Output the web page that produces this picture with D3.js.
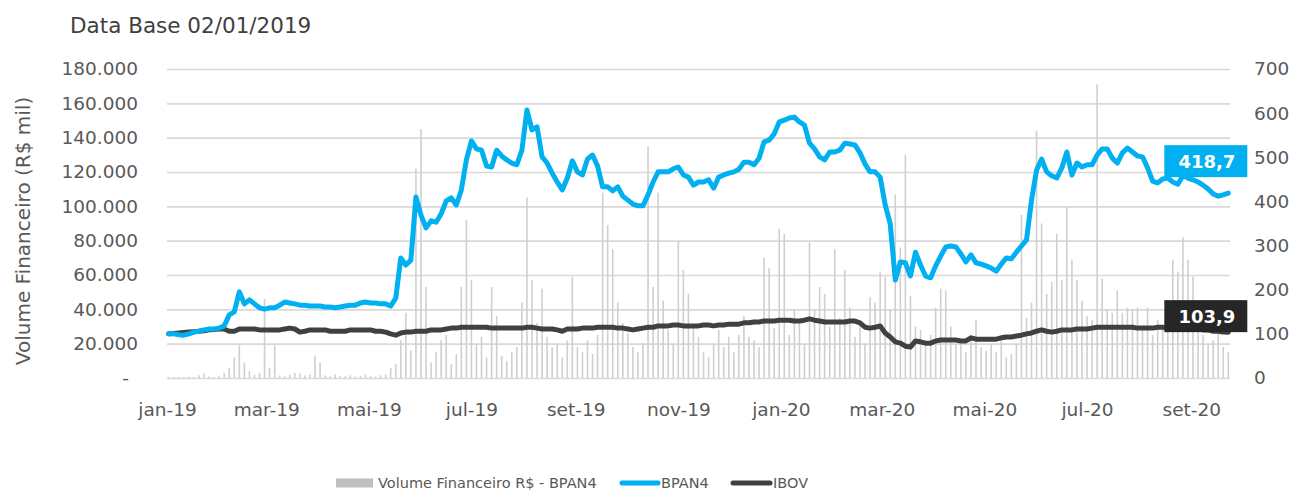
<!DOCTYPE html>
<html>
<head>
<meta charset="utf-8">
<script src="https://cdn.jsdelivr.net/npm/d3@7"></script>
<style>
  body { margin: 0; background: #fff; }
  text { font-family: "DejaVu Sans", Verdana, sans-serif; fill: #595959; }
</style>
</head>
<body>
<svg id="chart"></svg>
<script>
// series sampled every 3 calendar days from 02/01/2019
const startDate = new Date(2019, 0, 2);
const stepDays = 3;

// BPAN4 (base 100)
const bpan4 = [
  100,100,98,97,100,104,106,109,111,111,113,
  118,143,150,195,168,177,168,159,156,159,
  159,165,172,170,168,165,165,163,163,163,
  161,161,159,161,163,165,165,170,172,170,
  170,168,168,163,181,272,256,267,410,369,
  340,356,353,372,401,408,392,426,494,537,
  519,516,480,478,516,503,494,487,483,516,
  607,562,569,501,487,464,444,426,453,492,
  467,460,496,505,480,433,433,424,433,412,
  403,394,390,390,415,444,467,467,467,474,
  478,460,455,437,444,444,449,430,455,460,
  464,467,473,489,489,483,498,535,539,553,
  580,584,589,591,580,573,532,519,501,494,
  512,512,516,532,530,528,510,485,467,467,
  455,392,349,222,263,261,231,285,256,231,
  227,254,276,297,299,297,281,263,279,261,
  258,254,249,242,258,272,270,285,299,313,
  403,471,496,467,458,453,476,512,460,487,
  478,483,483,505,519,519,498,487,510,521,
  512,503,501,476,446,442,451,453,444,439,
  458,453,449,444,437,428,417,412,415,418.7
];

// IBOV (base 100)
const ibov = [
  100,101,102,103,104,105,106,107,109,110,111,
  111,106,106,111,111,111,111,109,109,109,
  109,109,111,113,111,104,106,109,109,109,
  109,106,106,106,106,109,109,109,109,109,
  106,106,104,100,97,102,104,104,106,106,
  106,109,109,109,111,113,113,115,115,115,
  115,115,115,113,113,113,113,113,113,113,
  115,115,113,111,111,111,109,106,111,111,
  111,113,113,113,115,115,115,115,113,113,
  111,109,111,113,115,115,118,118,118,120,
  120,118,118,118,118,120,120,118,120,120,
  122,122,122,125,125,127,127,129,129,129,
  131,131,131,129,129,131,134,131,129,127,
  127,127,127,127,129,129,125,115,113,115,
  118,102,93,82,79,72,70,84,82,79,
  79,84,86,86,86,86,84,84,91,88,
  88,88,88,88,91,93,93,95,97,100,
  102,106,109,106,104,106,109,109,109,111,
  111,111,113,115,115,115,115,115,115,115,
  115,113,113,113,113,115,115,113,113,113,
  113,111,111,111,109,109,106,106,104,103.9
];

// Volume Financeiro R$ - BPAN4 (R$ mil)
const volume = [
  500,300,500,400,800,600,1500,2500,800,600,1000,
  3000,6000,12000,19000,9000,4000,2000,3000,46000,6000,
  19000,1500,1000,2000,3000,2500,1500,2000,13000,9000,
  1500,1000,2000,1200,1000,1500,800,1200,2000,1000,
  800,1500,2000,6000,8000,22000,38000,16000,122000,145000,
  53000,9000,15000,22000,25000,8000,14000,53000,92000,57000,
  20000,24000,12000,53000,36000,13000,10000,15000,18000,44000,
  105000,57000,32000,52000,24000,18000,20000,12000,22000,59000,
  18000,15000,22000,14000,25000,108000,89000,75000,44000,32000,
  26000,18000,15000,20000,135000,53000,108000,45000,28000,20000,
  80000,63000,49000,30000,24000,15000,12000,20000,28000,18000,
  24000,15000,25000,36000,24000,22000,18000,70000,64000,29000,
  87000,84000,25000,40000,32000,20000,79000,40000,53000,49000,
  30000,75000,35000,63000,41000,24000,30000,20000,47000,44000,
  62000,59000,40000,107000,76000,130000,48000,30000,28000,20000,
  25000,41000,52000,51000,30000,20000,20000,15000,25000,34000,
  18000,16000,20000,15000,24000,12000,14000,20000,95000,35000,
  44000,144000,90000,49000,56000,84000,57000,100000,69000,57000,
  45000,36000,34000,171000,58000,40000,38000,51000,38000,41000,
  40000,41000,30000,41000,25000,34000,28000,40000,69000,62000,
  82000,69000,59000,30000,25000,20000,22000,30000,18000,15000
];

const xTickDates = ["2019-01-01","2019-03-01","2019-05-01","2019-07-01","2019-09-01","2019-11-01",
                    "2020-01-01","2020-03-01","2020-05-01","2020-07-01","2020-09-01"];
const xTickLabels = ["jan-19","mar-19","mai-19","jul-19","set-19","nov-19",
                     "jan-20","mar-20","mai-20","jul-20","set-20"];
const leftTicks = [0,20000,40000,60000,80000,100000,120000,140000,160000,180000];
const rightTicks = [0,100,200,300,400,500,600,700];

const width = 1293, height = 499;
const m = {left: 167, right: 1230, top: 69, bottom: 378};
const blue = "#00b0f0", dark = "#404040", barColor = "#cfcfcf", gridColor = "#d9d9d9";

const pt = d3.formatLocale({decimal: ",", thousands: ".", grouping: [3], currency: ["R$ ", ""]});
const fmtThousands = pt.format(",.0f");
const fmtOne = pt.format(".1f");

const parse = d3.timeParse("%Y-%m-%d");
const dates = bpan4.map((d, i) => d3.timeDay.offset(startDate, i * stepDays));

const x = d3.scaleTime()
  .domain([new Date(2019, 0, 1), new Date(2020, 8, 24)])
  .range([m.left, m.right]);

const yL = d3.scaleLinear().domain([0, 180000]).range([m.bottom, m.top]);
const yR = d3.scaleLinear().domain([0, 700]).range([m.bottom, m.top]);

const svg = d3.select("#chart")
  .attr("width", width)
  .attr("height", height)
  .style("background", "#fff");

// title
svg.append("text")
  .attr("x", 70)
  .attr("y", 33)
  .style("font-size", "21.5px")
  .style("fill", "#404040")
  .text("Data Base 02/01/2019");

// gridlines
const grid = svg.append("g")
  .attr("transform", `translate(${m.left},0)`)
  .call(d3.axisLeft(yL).tickValues(leftTicks).tickSize(-(m.right - m.left)).tickFormat(""));
grid.select(".domain").remove();
grid.selectAll("line").attr("stroke", gridColor).attr("stroke-width", 1.6);

// volume bars
svg.append("g")
  .selectAll("rect")
  .data(volume)
  .enter()
  .append("rect")
  .attr("x", (d, i) => x(dates[i]) - 0.8)
  .attr("width", 1.6)
  .attr("y", d => yL(d))
  .attr("height", d => m.bottom - yL(d))
  .attr("fill", barColor);

// left axis
const axL = svg.append("g")
  .attr("transform", `translate(${m.left},0)`)
  .call(d3.axisLeft(yL).tickValues(leftTicks).tickSize(0).tickPadding(29)
    .tickFormat(d => d === 0 ? "-" : fmtThousands(d)));
axL.select(".domain").remove();
axL.selectAll("text").style("font-size", "18.5px").style("fill", "#595959")
  .attr("dx", d => d === 0 ? -9 : 0);

// right axis
const axR = svg.append("g")
  .attr("transform", `translate(${m.right},0)`)
  .call(d3.axisRight(yR).tickValues(rightTicks).tickSize(0).tickPadding(24));
axR.select(".domain").remove();
axR.selectAll("text").style("font-size", "18.5px").style("fill", "#595959");

// x axis
const axX = svg.append("g")
  .attr("transform", `translate(0,${m.bottom})`)
  .call(d3.axisBottom(x).tickValues(xTickDates.map(parse)).tickSize(0).tickPadding(25)
    .tickFormat((d, i) => xTickLabels[i]));
axX.select(".domain").remove();
axX.selectAll("text").style("font-size", "18.5px").style("fill", "#595959");

// y axis title
svg.append("text")
  .attr("transform", "translate(30,231) rotate(-90)")
  .attr("text-anchor", "middle")
  .style("font-size", "20px")
  .text("Volume Financeiro (R$ mil)");

// lines
const lineR = d3.line()
  .x((d, i) => x(dates[i]))
  .y(d => yR(d));

svg.append("path")
  .datum(ibov)
  .attr("d", lineR)
  .attr("fill", "none")
  .attr("stroke", dark)
  .attr("stroke-width", 5)
  .attr("stroke-linejoin", "round")
  .attr("stroke-linecap", "round");

svg.append("path")
  .datum(bpan4)
  .attr("d", lineR)
  .attr("fill", "none")
  .attr("stroke", blue)
  .attr("stroke-width", 5)
  .attr("stroke-linejoin", "round")
  .attr("stroke-linecap", "round");

// end labels
const lastDate = dates[dates.length - 1];
const endLabels = [
  {v: bpan4[bpan4.length - 1], color: blue, off: 48},
  {v: ibov[ibov.length - 1], color: "#262626", off: 32}
];
endLabels.forEach(l => {
  const bx = x(lastDate) - 64, by = yR(l.v) - l.off;
  svg.append("rect")
    .attr("x", bx).attr("y", by)
    .attr("width", 83).attr("height", 32)
    .attr("fill", l.color);
  svg.append("text")
    .attr("x", bx + 71).attr("y", by + 16)
    .attr("text-anchor", "end")
    .attr("dominant-baseline", "central")
    .style("font-size", "18px")
    .style("font-weight", "bold")
    .style("fill", "#fff")
    .text(fmtOne(l.v));
});

// legend
const legY = 483;
const leg = svg.append("g");
leg.append("rect").attr("x", 336).attr("y", legY - 4.5).attr("width", 37).attr("height", 9).attr("fill", "#bfbfbf");
leg.append("text").attr("x", 378).attr("y", legY).attr("dominant-baseline", "central")
  .style("font-size", "14.5px").text("Volume Financeiro R$ - BPAN4");
leg.append("line").attr("x1", 622).attr("x2", 658).attr("y1", legY).attr("y2", legY)
  .attr("stroke", blue).attr("stroke-width", 5).attr("stroke-linecap", "round");
leg.append("text").attr("x", 661).attr("y", legY).attr("dominant-baseline", "central")
  .style("font-size", "14.5px").text("BPAN4");
leg.append("line").attr("x1", 733).attr("x2", 770).attr("y1", legY).attr("y2", legY)
  .attr("stroke", dark).attr("stroke-width", 5).attr("stroke-linecap", "round");
leg.append("text").attr("x", 773).attr("y", legY).attr("dominant-baseline", "central")
  .style("font-size", "14.5px").text("IBOV");
</script>
</body>
</html>
